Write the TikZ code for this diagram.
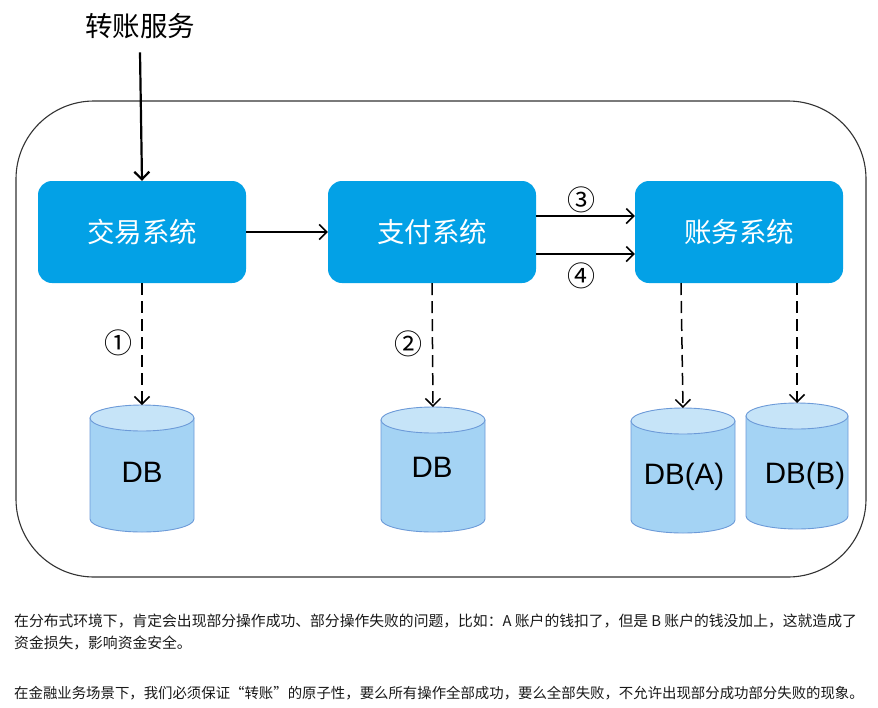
\documentclass[tikz,border=0pt]{standalone}
\usepackage{fontspec}
\setmainfont{Liberation Sans}
\newfontfamily\cjk{Noto Sans CJK SC}
\usetikzlibrary{arrows.meta}
\definecolor{sysblue}{HTML}{03A1E6}
\definecolor{dbside}{HTML}{A4D3F4}
\definecolor{dbtop}{HTML}{C6E4F8}
\definecolor{dbline}{HTML}{6C9AD8}
\definecolor{frame}{HTML}{333333}
\newcommand\dbcyl[6]{% #1 name, #2 cx, #3 top, #4 bottom, #5 half width
  \filldraw[dbshape, fill=dbside] ({#2-#5},{#3+13}) -- ({#2-#5},{#4-13})
    arc[start angle=180, end angle=360, x radius=#5pt, y radius=13pt] -- ({#2+#5},{#3+13}) -- cycle;
  \filldraw[dbshape, fill=dbtop] (#2,{#3+13}) ellipse [x radius=#5pt, y radius=13pt];
  \coordinate (#1top) at (#2,#3);
}
\begin{document}
\begin{tikzpicture}[x=1pt,y=-1pt,
  sys/.style={fill=sysblue, rounded corners=14pt, minimum width=208pt, minimum height=102pt,
    text=white, font=\cjk\fontsize{27.5}{27.5}\selectfont, inner sep=0pt},
  arr/.style={-{Straight Barb[length=7.5pt,width=15pt]}, line width=1.5pt},
  dasharr/.style={arr, dash pattern=on 12pt off 6pt},
  num/.style={font=\cjk\fontsize{28}{28}\selectfont, inner sep=0pt},
  dbshape/.style={draw=dbline, line width=0.9pt},
  dbtext/.style={font=\fontsize{29.5}{29.5}\selectfont, inner sep=0pt},
  para/.style={font=\cjk\fontsize{14.8}{14.8}\selectfont, anchor=west, inner sep=0pt, text=black!90}]
\useasboundingbox (0,0) rectangle (878,707);
\fill[white] (0,0) rectangle (878,707);

\draw[frame, line width=1.1pt, rounded corners=78pt] (16,101) rectangle (866,577);

\node[font=\cjk\fontsize{27.5}{27.5}\selectfont] (title) at (140,26) {转账服务};

\node[sys] (jy) at (142,232) {交易系统};
\node[sys] (zf) at (432,232) {支付系统};
\node[sys] (zw) at (739,232) {账务系统};

\dbcyl{db1}{142}{405}{532}{52}{}
\dbcyl{db2}{433}{407}{532}{52}{}
\dbcyl{dba}{683}{408}{533}{52}{}
\dbcyl{dbb}{797}{403}{529}{51}{}

\node[dbtext] (t1) at (142,472) {DB};
\node[dbtext] (t2) at (432,467) {DB};
\node[dbtext] (ta) at (684,477) {DB(A)};
\node[dbtext] (tb) at (805,476) {DB(B)};

\draw[arr, line width=2.2pt] ([yshift=-10pt]title.south) -- (jy.north);
\draw[arr] (jy.east) -- (zf.west);
\draw[arr] ([yshift=16pt]zf.east) -- ([yshift=16pt]zw.west);
\draw[arr] ([yshift=-22pt]zf.east) -- ([yshift=-22pt]zw.west);

\node[num] (n3) at (581,200) {③};
\node[num] (n4) at (581,276) {④};

\draw[dasharr] (jy.south) -- (db1top);
\draw[dasharr] (zf.south) -- (db2top);
\coordinate (zwa) at (681,283);
\coordinate (zwb) at (797,283);
\draw[dasharr] (zwa) -- (dbatop);
\draw[dasharr] (zwb) -- (dbbtop);

\node[num] (n1) at (118,343) {①};
\node[num] (n2) at (408,344) {②};

\node[para] (p1) at (14,621) {在分布式环境下，肯定会出现部分操作成功、部分操作失败的问题，比如：A 账户的钱扣了，但是 B 账户的钱没加上，这就造成了};
\node[para] (p2) at (14,643) {资金损失，影响资金安全。};
\node[para, font=\cjk\fontsize{14.4}{14.4}\selectfont] (p3) at (14,693) {在金融业务场景下，我们必须保证“转账”的原子性，要么所有操作全部成功，要么全部失败，不允许出现部分成功部分失败的现象。};
\end{tikzpicture}
\end{document}
